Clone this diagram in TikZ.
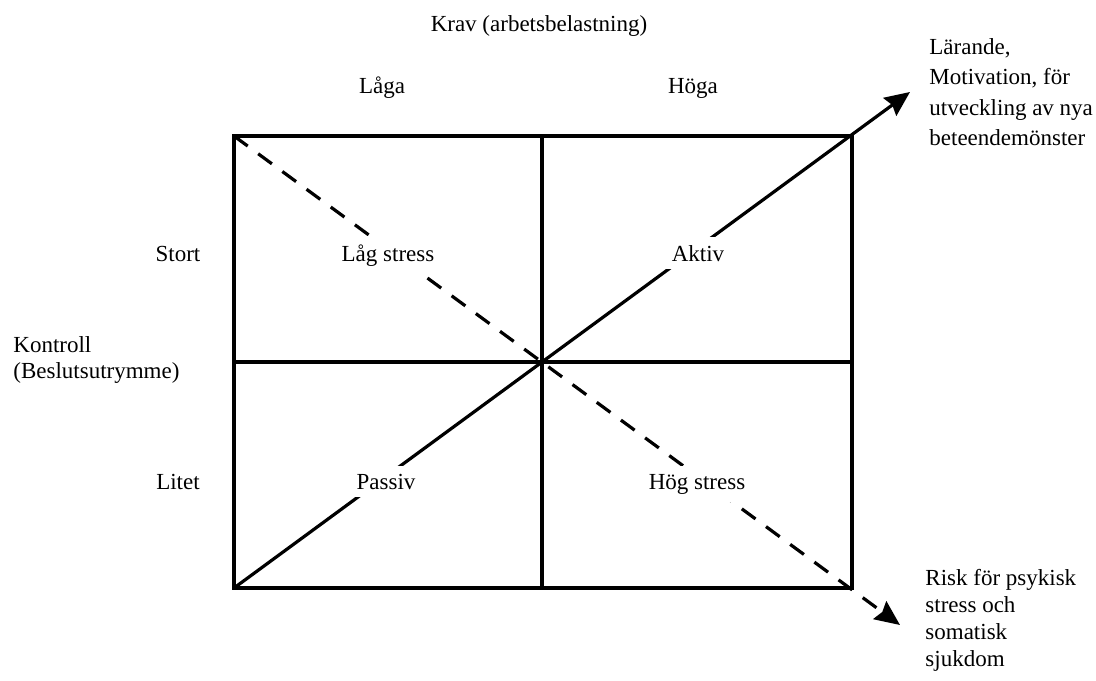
\documentclass[tikz,border=0pt]{standalone}
\usepackage{fontspec}
\setmainfont{Liberation Serif}
\usetikzlibrary{arrows.meta}

\begin{document}
\begin{tikzpicture}[x=0.5pt,y=-0.5pt,font=\fontsize{11.5}{13.5}\selectfont,
  grid/.style={line width=1.6pt},
  lbl/.style={inner sep=0pt,anchor=base},
  quad/.style={lbl,fill=white,inner sep=4pt},
  block/.style={inner sep=0pt,anchor=north west,align=left},
  tip/.style={-{Stealth[length=12.5pt,width=11pt,inset=1.5pt]}}]
 \useasboundingbox (0,0) rectangle (1096,680);
 % box with its middle lines
 \coordinate (nw) at (234,136); \coordinate (se) at (852,588);
 \coordinate (mid) at (542,362); \coordinate (sw) at (nw |- se);
 \draw[grid] (nw) rectangle (se);
 \draw[grid] (nw -| mid) -- (se -| mid);
 \draw[grid] (nw |- mid) -- (se |- mid);
 % the two diagonals
 \coordinate (uptip) at (910,92); \coordinate (downtip) at (900,625);
 \draw[grid,tip] (sw) -- (uptip);
 \draw[grid,tip,dash pattern=on 8.5pt off 6.5pt] (nw) -- (downtip);
 % axis texts
 \node[lbl] (krav) at (539,32) {Krav (arbetsbelastning)};
 \foreach \x/\t/\n in {382/Låga/laga,693/Höga/hoga}
   {\node[lbl] (\n) at (\x,93) {\t};}
 \node[lbl] (stort) at (178,261) {Stort};
 \node[lbl] (litet) at (178,489) {Litet};
 \node[block,font=\fontsize{11.5}{13}\selectfont] (kontroll) at (13,336) {Kontroll\\(Beslutsutrymme)};
 % quadrants, set over the diagonals
 \node[quad] (lagstress) at (388,261) {Låg stress};
 \node[quad] (aktiv) at (698,261) {Aktiv};
 \node[quad] (passiv) at (386,489) {Passiv};
 \node[quad] (hogstress) at (697,489) {Hög stress};
 % arrow texts
 \node[block,font=\fontsize{11.5}{15.25}\selectfont] (larande) at (929,38) {Lärande,\\Motivation, för\\utveckling av nya\\beteendemönster};
 \node[block,font=\fontsize{11.5}{13.5}\selectfont] (risk) at (925,569) {Risk för psykisk\\stress och\\somatisk\\sjukdom};
\end{tikzpicture}
\end{document}
